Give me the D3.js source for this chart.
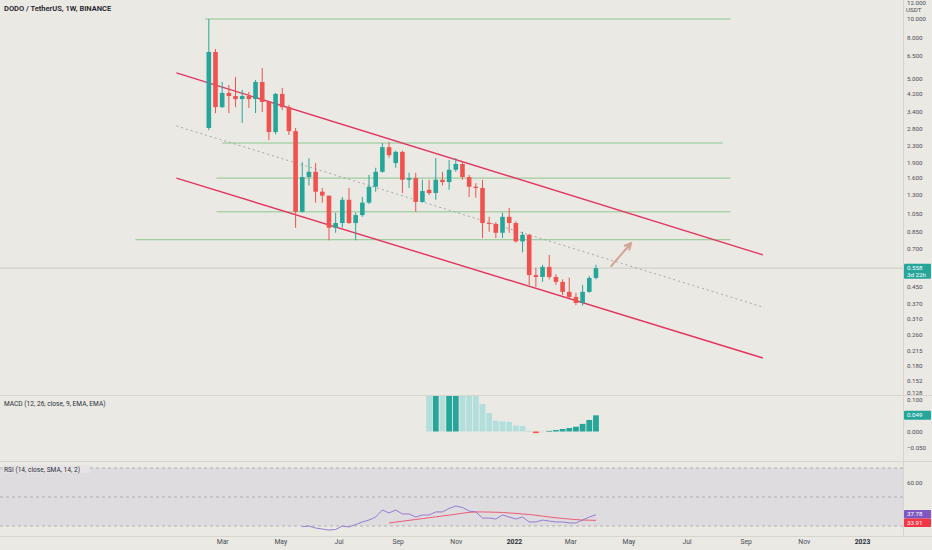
<!DOCTYPE html>
<html>
<head>
<meta charset="utf-8">
<script src="https://cdn.jsdelivr.net/npm/d3@7"></script>
<style>
html, body { margin: 0; padding: 0; background: #eae9e3; overflow: hidden; }
svg { display: block; font-family: Roboto, "DejaVu Sans", sans-serif; }
</style>
</head>
<body>
<script>
// weekly candles, first bar is the week of 15 Feb 2021
var firstWeek = "2021-02-15";
var opens  = [2.82, 6.79, 3.59, 4.23, 4.08, 3.94, 4.08, 3.94, 4.80, 3.81, 2.69, 4.18, 3.59, 2.72, 1.07, 1.60, 1.70, 1.35, 1.29, 0.89,
              0.94, 1.23, 0.94, 1.03, 1.19, 1.43, 1.70, 2.26, 1.88, 2.14, 1.55, 1.58, 1.20, 1.38, 1.33, 1.55, 1.51, 1.74, 1.86, 1.60,
              1.43, 1.41, 0.94, 0.93, 0.84, 1.01, 0.94, 0.76, 0.82, 0.515, 0.504, 0.566, 0.504, 0.476, 0.424, 0.400, 0.373, 0.424, 0.498];
var highs  = [9.94, 7.03, 4.80, 4.64, 5.09, 4.38, 4.28, 4.91, 5.64, 3.81, 4.23, 4.48, 3.68, 2.82, 1.90, 1.99, 1.88, 1.41, 1.29, 1.06,
              1.27, 1.41, 1.06, 1.27, 1.64, 1.78, 2.37, 2.40, 2.17, 2.17, 1.68, 1.68, 1.55, 1.55, 1.99, 1.70, 1.95, 1.99, 1.90, 1.64,
              1.49, 1.55, 1.01, 0.95, 1.06, 1.12, 0.96, 0.85, 0.83, 0.56, 0.58, 0.65, 0.52, 0.49, 0.50, 0.42, 0.46, 0.51, 0.58];
var lows   = [2.75, 3.35, 3.55, 3.35, 3.59, 2.99, 3.55, 3.35, 3.39, 2.45, 2.62, 3.47, 2.60, 0.89, 1.06, 1.45, 1.19, 1.19, 0.77, 0.84,
              0.89, 0.93, 0.77, 1.01, 1.17, 1.35, 1.68, 2.00, 1.78, 1.33, 1.41, 1.07, 1.19, 1.30, 1.23, 1.45, 1.38, 1.70, 1.55, 1.27,
              1.26, 0.79, 0.85, 0.79, 0.79, 0.84, 0.75, 0.67, 0.459, 0.449, 0.476, 0.49, 0.46, 0.409, 0.395, 0.364, 0.362, 0.42, 0.49];
var closes = [6.79, 3.59, 4.23, 4.08, 3.94, 4.08, 3.94, 4.80, 3.81, 2.69, 4.18, 3.59, 2.72, 1.07, 1.60, 1.70, 1.35, 1.29, 0.89, 0.94,
              1.23, 0.94, 1.03, 1.19, 1.43, 1.70, 2.26, 2.06, 2.14, 1.55, 1.58, 1.20, 1.36, 1.33, 1.55, 1.51, 1.74, 1.86, 1.60, 1.43,
              1.41, 0.94, 0.93, 0.84, 1.01, 0.94, 0.76, 0.82, 0.515, 0.504, 0.566, 0.504, 0.476, 0.424, 0.400, 0.373, 0.424, 0.498, 0.558];

// indicators: index of the first bar they start on (0-based)
var macdFirst = 33;
var macdHist = [0.12, 0.13, 0.125, 0.135, 0.14, 0.13, 0.12, 0.11, 0.083, 0.056, 0.033, 0.030, 0.029, 0.018, 0.017, 0.002,
                -0.005, -0.001, 0.002, 0.0045, 0.0076, 0.0106, 0.0145, 0.023, 0.035, 0.049];
var rsiFirst = 14;
var rsiValues = [29.5, 30.0, 28.6, 27.9, 27.2, 27.6, 30.0, 29.3, 31.0, 32.8, 34.1, 36.2, 41.0, 39.0, 41.0, 38.3, 38.3, 36.2,
                 37.6, 37.6, 39.7, 39.7, 42.1, 43.8, 42.8, 40.3, 39.7, 35.5, 35.5, 34.8, 37.6, 36.2, 34.8, 36.2, 32.8, 32.8,
                 34.1, 33.4, 32.8, 32.8, 32.1, 32.1, 34.1, 36.2, 37.78];
var rsiMaFirst = 27;
var rsiMaValues = [32.1, 32.7, 33.3, 33.9, 34.5, 35.1, 35.7, 36.3, 36.9, 37.5, 38.1, 38.8, 39.4, 39.7, 39.7, 39.6, 39.5, 39.3,
                   39.0, 38.7, 38.3, 37.9, 37.4, 36.8, 36.2, 35.7, 35.2, 34.8, 34.4, 34.1, 34.0, 33.91];

// drawings
var levelPrices = [9.94, 2.37, 1.58, 1.07, 0.775];
var levelFrom   = ["2021-02-11", "2021-03-01", "2021-02-23", "2021-02-23", "2020-11-30"];
var levelTo     = ["2022-08-16", "2022-08-08", "2022-08-16", "2022-08-16", "2022-08-16"];
var channelUpper = [["2021-01-12", 5.33], ["2022-09-19", 0.65]];
var channelLower = [["2021-01-12", 1.58], ["2022-09-19", 0.1975]];
var channelMid   = [["2021-01-12", 2.886], ["2022-09-19", 0.356]];
var arrowLine    = [["2022-04-13", 0.572], ["2022-05-04", 0.746]];

// axes
var priceTicks = [12, 10, 8, 6.5, 5, 4.2, 3.4, 2.8, 2.3, 1.9, 1.6, 1.3, 1.05, 0.85, 0.7, 0.45, 0.37, 0.31, 0.26, 0.215, 0.18, 0.152, 0.128];
var macdTicks = [0.1, 0, -0.05];
var rsiTicks = [60, 40];
var timeTicks = ["2021-03-01", "2021-05-01", "2021-07-01", "2021-09-01", "2021-11-01", "2022-01-01",
                 "2022-03-01", "2022-05-01", "2022-07-01", "2022-09-01", "2022-11-01", "2023-01-01"];
var lastPrice = 0.558, countdown = "3d 22h";

var W = 932, H = 550, plotW = 903;
var pane = { price: [0, 395], macd: [396, 461], rsi: [462, 536] };
var col = { bg: "#eae9e3", up: "#26a69a", down: "#ef5350", level: "#8dc790", channel: "#e3345f",
            sep: "#d6d5ce", text: "#4a4d57" };

var parse = d3.utcParse("%Y-%m-%d");
var start = parse(firstWeek);
var bars = opens.map(function(o, i) {
	return { date: d3.utcDay.offset(start, 7 * i), o: o, h: highs[i], l: lows[i], c: closes[i] };
});

var x = d3.scaleUtc().domain([parse("2020-07-11"), parse("2023-02-13")]).range([0, plotW]);
var y = d3.scaleLog().domain([10, 0.18]).range([18.5, 366]);
var yMacd = d3.scaleLinear().domain([0, 0.05]).range([431.5, 415]);
var yRsi = d3.scaleLinear().domain([30, 70]).range([526, 468]);
var bw = 4.6;

var svg = d3.select("body").append("svg").attr("width", W).attr("height", H);
svg.append("rect").attr("width", W).attr("height", H).attr("fill", col.bg);

var defs = svg.append("defs");
Object.keys(pane).forEach(function(k) {
	defs.append("clipPath").attr("id", "clip-" + k).append("rect")
		.attr("x", 0).attr("y", pane[k][0]).attr("width", plotW).attr("height", pane[k][1] - pane[k][0]);
});

// pane separators
[395.5, 461.5, 536.5].forEach(function(v) {
	svg.append("line").attr("x1", 0).attr("x2", W).attr("y1", v).attr("y2", v)
		.attr("stroke", col.sep).attr("stroke-width", 1);
});
svg.append("line").attr("x1", plotW + 0.5).attr("x2", plotW + 0.5).attr("y1", 0).attr("y2", 536)
	.attr("stroke", col.sep);

// ---- price pane ----
var gp = svg.append("g").attr("clip-path", "url(#clip-price)");

gp.append("line").attr("x1", 0).attr("x2", plotW)
	.attr("y1", y(lastPrice)).attr("y2", y(lastPrice))
	.attr("stroke", "#cacbc5").attr("stroke-width", 1);

gp.selectAll("line.level").data(levelPrices).enter().append("line").attr("class", "level")
	.attr("x1", function(d, i) { return x(parse(levelFrom[i])); })
	.attr("x2", function(d, i) { return x(parse(levelTo[i])); })
	.attr("y1", function(d) { return y(d); })
	.attr("y2", function(d) { return y(d); })
	.attr("stroke", col.level).attr("stroke-width", 1);

function segment(pts) {
	return d3.line().x(function(p) { return x(parse(p[0])); }).y(function(p) { return y(p[1]); })(pts);
}
gp.append("path").attr("d", segment(channelMid)).attr("fill", "none")
	.attr("stroke", "#a8a8a4").attr("stroke-width", 1).attr("stroke-dasharray", "2,3");
[channelUpper, channelLower].forEach(function(c) {
	gp.append("path").attr("d", segment(c)).attr("fill", "none")
		.attr("stroke", col.channel).attr("stroke-width", 1.4);
});

// candles
var cg = gp.selectAll("g.bar").data(bars).enter().append("g").attr("class", "bar");
cg.append("line")
	.attr("x1", function(d) { return x(d.date); }).attr("x2", function(d) { return x(d.date); })
	.attr("y1", function(d) { return y(d.h); }).attr("y2", function(d) { return y(d.l); })
	.attr("stroke", function(d) { return d.c >= d.o ? col.up : col.down; }).attr("stroke-width", 1);
cg.append("rect")
	.attr("x", function(d) { return x(d.date) - bw / 2; })
	.attr("width", bw)
	.attr("y", function(d) { return y(Math.max(d.o, d.c)); })
	.attr("height", function(d) { return Math.max(1, Math.abs(y(d.o) - y(d.c))); })
	.attr("fill", function(d) { return d.c >= d.o ? col.up : col.down; });

// arrow
var a0 = [x(parse(arrowLine[0][0])), y(arrowLine[0][1])];
var a1 = [x(parse(arrowLine[1][0])), y(arrowLine[1][1])];
var ang = Math.atan2(a1[1] - a0[1], a1[0] - a0[0]);
var head = 7;
gp.append("path")
	.attr("d", "M" + a0 + "L" + a1 +
		"M" + [a1[0] - head * Math.cos(ang - 0.45), a1[1] - head * Math.sin(ang - 0.45)] + "L" + a1 +
		"L" + [a1[0] - head * Math.cos(ang + 0.45), a1[1] - head * Math.sin(ang + 0.45)])
	.attr("fill", "none").attr("stroke", "#d4a596").attr("stroke-width", 2)
	.attr("stroke-linecap", "round").attr("stroke-linejoin", "round");

svg.append("text").attr("x", 4).attr("y", 11).text("DODO / TetherUS, 1W, BINANCE")
	.attr("font-size", "7.5px").attr("font-weight", 600).attr("fill", "#1d202a");

// ---- MACD pane ----
var gm = svg.append("g").attr("clip-path", "url(#clip-macd)");
gm.selectAll("rect").data(macdHist).enter().append("rect")
	.attr("x", function(d, i) { return x(bars[macdFirst + i].date) - 2.9; })
	.attr("width", 5.8)
	.attr("y", function(d) { return Math.min(yMacd(d), yMacd(0)); })
	.attr("height", function(d) { return Math.max(0.8, Math.abs(yMacd(d) - yMacd(0))); })
	.attr("fill", function(d, i) {
		var prev = i ? macdHist[i - 1] : Infinity;
		if (d >= 0) return d >= prev ? "#26a69a" : "#b2dfdb";
		return d >= prev ? "#ffcdd2" : "#ff5252";
	});
svg.append("text").attr("x", 4).attr("y", 405.5).text("MACD (12, 26, close, 9, EMA, EMA)")
	.attr("font-size", "6.6px").attr("fill", "#2a2e39");

// ---- RSI pane ----
var gr = svg.append("g").attr("clip-path", "url(#clip-rsi)");
gr.append("rect").attr("x", 0).attr("width", plotW)
	.attr("y", yRsi(70)).attr("height", yRsi(30) - yRsi(70))
	.attr("fill", "#7e57c2").attr("fill-opacity", 0.09);
[70, 50, 30].forEach(function(v) {
	gr.append("line").attr("x1", 0).attr("x2", plotW).attr("y1", yRsi(v)).attr("y2", yRsi(v))
		.attr("stroke", "#a3a2a6").attr("stroke-width", 0.8).attr("stroke-dasharray", "3,3");
});
var rsiLine = d3.line()
	.x(function(d) { return x(bars[d.i].date); })
	.y(function(d) { return yRsi(d.v); });
gr.append("path")
	.attr("d", rsiLine(rsiMaValues.map(function(v, i) { return { i: rsiMaFirst + i, v: v }; })))
	.attr("fill", "none").attr("stroke", "#ec5a78").attr("stroke-width", 1);
gr.append("path")
	.attr("d", rsiLine(rsiValues.map(function(v, i) { return { i: rsiFirst + i, v: v }; })))
	.attr("fill", "none").attr("stroke", "#8c6fd0").attr("stroke-width", 0.9);

var rsiTitle = "RSI (14, close, SMA, 14, 2)";
svg.append("rect").attr("x", 3).attr("y", 465).attr("width", 87).attr("height", 8).attr("fill", "#e7e3e5");
svg.append("text").attr("x", 4).attr("y", 471.5).text(rsiTitle)
	.attr("font-size", "6.6px").attr("fill", "#2a2e39");

// ---- axes ----
function styleAxis(g) {
	g.select(".domain").remove();
	g.selectAll("text").attr("fill", col.text).attr("font-family", "Roboto, 'DejaVu Sans', sans-serif");
}
var gpy = svg.append("g").attr("transform", "translate(" + (plotW + 1) + ",0)")
	.call(d3.axisRight(y).tickValues(priceTicks).tickSize(0).tickPadding(3).tickFormat(d3.format(".3f")))
	.attr("font-size", "6.2px").call(styleAxis);
// lowest price label sits on the pane border, lift it a bit off the MACD scale
gpy.selectAll(".tick text").filter(function(d) { return d === 0.128; }).attr("dy", "-0.2em");
var gmy = svg.append("g").attr("transform", "translate(" + (plotW + 1) + ",0)")
	.call(d3.axisRight(yMacd).tickValues(macdTicks).tickSize(0).tickPadding(3).tickFormat(d3.format(".3f")))
	.attr("font-size", "6.2px").call(styleAxis);
gmy.selectAll(".tick text").filter(function(d) { return d === 0.1; }).attr("dy", "0.55em");
svg.append("g").attr("transform", "translate(" + (plotW + 1) + ",0)")
	.call(d3.axisRight(yRsi).tickValues(rsiTicks).tickSize(0).tickPadding(3).tickFormat(d3.format(".2f")))
	.attr("font-size", "6.2px").call(styleAxis);
svg.append("text").attr("x", 906).attr("y", 11.5).text("USDT")
	.attr("font-size", "6.2px").attr("fill", col.text);

var fmtMonth = d3.utcFormat("%b"), fmtYear = d3.utcFormat("%Y");
var gx = svg.append("g").attr("transform", "translate(0,539)")
	.call(d3.axisBottom(x).tickValues(timeTicks.map(parse)).tickSize(0).tickPadding(0)
		.tickFormat(function(d) { return d.getUTCMonth() === 0 ? fmtYear(d) : fmtMonth(d); }))
	.attr("font-size", "6.8px").call(styleAxis);
gx.selectAll("text").attr("dy", "0.75em")
	.attr("font-weight", function(d) { return d.getUTCMonth() === 0 ? 700 : 400; })
	.attr("fill", function(d) { return d.getUTCMonth() === 0 ? "#2a2e39" : col.text; });

// value badges on the right scale
function badge(yc, h, fill, lines) {
	svg.append("rect").attr("x", plotW + 1).attr("y", yc - h / 2).attr("width", W - plotW - 2).attr("height", h)
		.attr("rx", 1).attr("fill", fill);
	lines.forEach(function(t, k) {
		svg.append("text").attr("x", plotW + 4).attr("y", yc - h / 2 + 6.3 + k * 6.6).text(t)
			.attr("font-size", "6.2px").attr("fill", "#ffffff");
	});
}
badge(y(lastPrice) + 3, 15, col.up, [d3.format(".3f")(lastPrice), countdown]);
badge(yMacd(macdHist[macdHist.length - 1]), 9, col.up, [d3.format(".3f")(macdHist[macdHist.length - 1])]);
var rsiLast = rsiValues[rsiValues.length - 1], maLast = rsiMaValues[rsiMaValues.length - 1];
var yA = yRsi(rsiLast) - 0.5, yB = Math.max(yRsi(maLast), yA + 8.5);
badge(yA, 8.5, "#7e57c2", [d3.format(".2f")(rsiLast)]);
badge(yB, 8.5, "#f23645", [d3.format(".2f")(maLast)]);
</script>
</body>
</html>
